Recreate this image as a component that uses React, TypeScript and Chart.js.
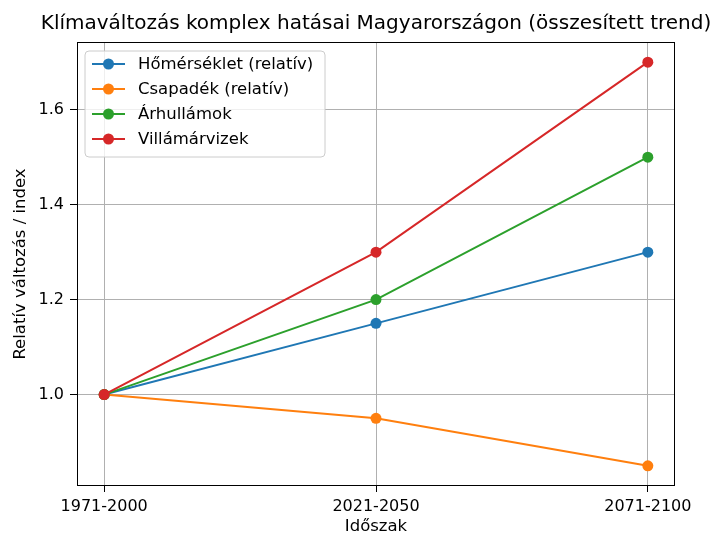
import React, { useEffect, useRef } from "react";
import { Chart, registerables } from "chart.js";

Chart.register(...registerables);

const periods = ["1971-2000", "2021-2050", "2071-2100"];
const homerseklet = [1.0, 1.15, 1.3];
const csapadek = [1.0, 0.95, 0.85];
const arhullamok = [1.0, 1.2, 1.5];
const villamarvizek = [1.0, 1.3, 1.7];
const yTicks = [1.0, 1.2, 1.4, 1.6];
const seriesNames = ["Hőmérséklet (relatív)", "Csapadék (relatív)", "Árhullámok", "Villámárvizek"];
const seriesValues = [homerseklet, csapadek, arhullamok, villamarvizek];
const colors = ["#1f77b4", "#ff7f0e", "#2ca02c", "#d62728"];
const titleText = "Klímaváltozás komplex hatásai Magyarországon (összesített trend)";
const xLabel = "Időszak";
const yLabel = "Relatív változás / index";

const FONT = "'DejaVu Sans', sans-serif";

const decorPlugin = {
  id: "decor",
  afterDraw(chart: any) {
    const { ctx, chartArea } = chart;
    const { left, right, top, bottom } = chartArea;
    ctx.save();
    // frame
    ctx.strokeStyle = "#000";
    ctx.lineWidth = 1;
    ctx.strokeRect(left + 0.5, top + 0.5, right - left - 1, bottom - top - 1);
    // title
    ctx.fillStyle = "#000";
    ctx.font = `20px ${FONT}`;
    ctx.textAlign = "center";
    ctx.textBaseline = "middle";
    ctx.fillText(titleText, (left + right) / 2, 24);
    // x label
    ctx.font = `16.5px ${FONT}`;
    ctx.fillText(xLabel, (left + right) / 2, 527);
    // y label
    ctx.save();
    ctx.translate(21, (top + bottom) / 2);
    ctx.rotate(-Math.PI / 2);
    ctx.fillText(yLabel, 0, 0);
    ctx.restore();
    // legend
    const bx = 85, by = 51, bw = 240, bh = 106, r = 4;
    ctx.beginPath();
    ctx.moveTo(bx + r, by);
    ctx.lineTo(bx + bw - r, by);
    ctx.quadraticCurveTo(bx + bw, by, bx + bw, by + r);
    ctx.lineTo(bx + bw, by + bh - r);
    ctx.quadraticCurveTo(bx + bw, by + bh, bx + bw - r, by + bh);
    ctx.lineTo(bx + r, by + bh);
    ctx.quadraticCurveTo(bx, by + bh, bx, by + bh - r);
    ctx.lineTo(bx, by + r);
    ctx.quadraticCurveTo(bx, by, bx + r, by);
    ctx.closePath();
    ctx.fillStyle = "rgba(255,255,255,0.8)";
    ctx.fill();
    ctx.strokeStyle = "#cccccc";
    ctx.lineWidth = 1;
    ctx.stroke();
    seriesNames.forEach((name, i) => {
      const y = 64 + i * 25;
      ctx.strokeStyle = colors[i];
      ctx.lineWidth = 2;
      ctx.beginPath();
      ctx.moveTo(92, y);
      ctx.lineTo(125, y);
      ctx.stroke();
      ctx.fillStyle = colors[i];
      ctx.beginPath();
      ctx.arc(108.5, y, 5.5, 0, Math.PI * 2);
      ctx.fill();
      ctx.fillStyle = "#000";
      ctx.font = `16.5px ${FONT}`;
      ctx.textAlign = "left";
      ctx.textBaseline = "middle";
      ctx.fillText(name, 138, y + 1);
    });
    ctx.restore();
  },
};

export default function App() {
  const ref = useRef<HTMLCanvasElement>(null);
  useEffect(() => {
    if (!ref.current) return;
    const chart = new Chart(ref.current, {
      type: "line",
      data: {
        datasets: seriesValues.map((vals, i) => ({
          label: seriesNames[i],
          data: vals.map((v, j) => ({ x: j, y: v })),
          borderColor: colors[i],
          backgroundColor: colors[i],
          borderWidth: 2,
          pointRadius: 5.5,
          pointBorderWidth: 0,
          pointHoverRadius: 5.5,
          fill: false,
          tension: 0,
          order: 3 - i,
          clip: false as any,
        })),
      },
      options: {
        animation: false,
        responsive: false,
        devicePixelRatio: 1,
        layout: { padding: { top: 42, right: 39, left: 0, bottom: 0 } },
        plugins: {
          legend: { display: false },
          title: { display: false },
          tooltip: { enabled: false },
        },
        scales: {
          x: {
            type: "linear",
            min: -0.1,
            max: 2.1,
            afterBuildTicks: (s: any) => {
              s.ticks = periods.map((_, i) => ({ value: i }));
            },
            afterFit: (s: any) => {
              s.height = 51;
            },
            ticks: {
              callback: (v: any) => periods[Math.round(v)] ?? "",
              color: "#000",
              font: { family: FONT, size: 16 },
              padding: 5,
              maxRotation: 0,
              autoSkip: false,
            },
            grid: { color: "#b0b0b0", lineWidth: 1, tickLength: 6, tickColor: "#000" },
            border: { display: false },
          },
          y: {
            type: "linear",
            min: 0.8075,
            max: 1.7425,
            afterBuildTicks: (s: any) => {
              s.ticks = yTicks.map((v) => ({ value: v }));
            },
            afterFit: (s: any) => {
              s.width = 77;
            },
            ticks: {
              callback: (v: any) => Number(v).toFixed(1),
              color: "#000",
              font: { family: FONT, size: 16 },
              padding: 6,
              autoSkip: false,
            },
            grid: { color: "#b0b0b0", lineWidth: 1, tickLength: 7, tickColor: "#000" },
            border: { display: false },
          },
        },
      },
      plugins: [decorPlugin],
    });
    return () => chart.destroy();
  }, []);
  return (
    <div style={{ position: "absolute", left: 0, top: 0, width: 714, height: 537 }}>
      <canvas ref={ref} width={714} height={537} style={{ display: "block" }} />
    </div>
  );
}
